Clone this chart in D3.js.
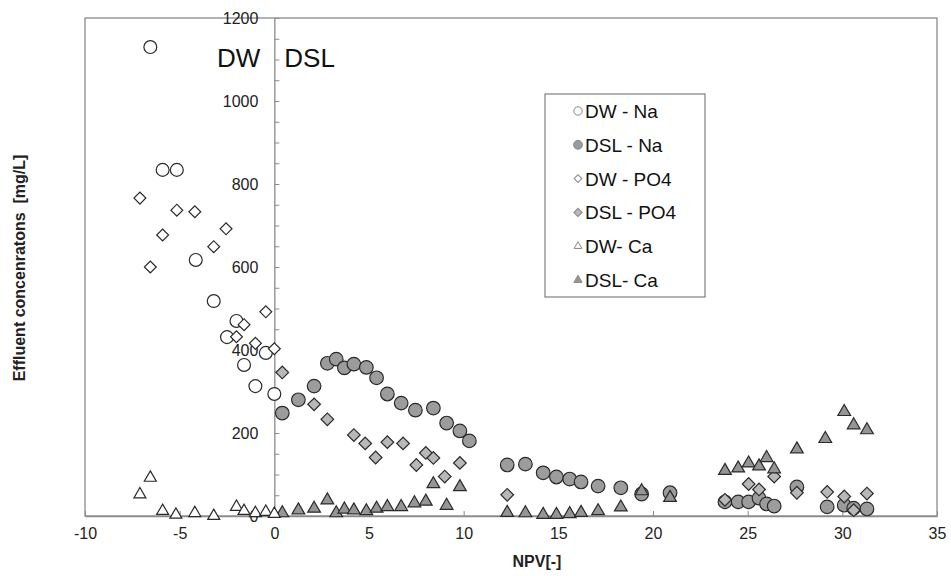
<!DOCTYPE html>
<html lang="en">

<head>
    <meta charset="UTF-8">
    <title>Effluent concentrations vs NPV</title>
    <style>
        body {
            margin: 0;
            background: #fff;
        }

        svg {
            font-family: Arial, "Liberation Sans", sans-serif;
        }

        .tick text {
            font-size: 16px;
            fill: #222;
        }
    </style>
</head>

<body>
    <script src="https://d3js.org/d3.v7.min.js"></script>
    <script>
        // [NPV, concentration mg/L]
        const dwNa = [[-6.55, 1130], [-5.9, 834], [-5.15, 834], [-4.15, 617], [-3.2, 518], [-2.0, 470],
            [-2.5, 431], [-1.6, 364], [-1.0, 313], [-0.45, 393], [0.0, 294]];
        const dslNa = [[0.42, 248], [1.27, 280], [2.1, 313], [2.8, 368], [3.27, 378], [3.7, 357], [4.2, 366],
            [4.86, 358], [5.4, 333], [5.97, 294], [6.7, 272], [7.45, 255], [8.4, 260], [9.1, 224], [9.8, 205],
            [10.3, 181], [12.3, 123], [13.26, 125], [14.2, 104], [14.9, 94], [15.6, 89], [16.2, 82], [17.1, 72],
            [18.3, 68], [19.4, 53], [20.9, 56], [23.8, 34], [24.5, 34], [25.05, 34], [25.6, 43], [26.0, 29],
            [26.4, 24], [27.6, 70], [29.2, 22], [30.1, 26], [30.6, 19], [31.3, 17]];
        const dwPO4 = [[-7.1, 766], [-5.15, 737], [-4.2, 733], [-5.9, 677], [-2.55, 692], [-3.2, 649],
            [-6.55, 600], [-0.45, 492], [-1.6, 461], [-2.0, 432], [-1.0, 416], [0.0, 403]];
        const dslPO4 = [[0.42, 346], [2.1, 269], [2.8, 233], [4.2, 195], [4.8, 175], [5.35, 141], [5.97, 178],
            [6.8, 175], [7.5, 123], [8.0, 152], [8.4, 140], [9.0, 95], [9.8, 128], [12.3, 51], [23.8, 39],
            [25.05, 77], [25.6, 64], [26.4, 95], [27.6, 56], [29.2, 58], [30.1, 47], [30.6, 14], [31.3, 54]];
        const dwCa = [[-7.1, 52], [-6.55, 92], [-5.9, 12], [-5.2, 3], [-4.2, 7], [-3.2, 0], [-2.0, 22],
            [-1.6, 12], [-1.0, 7], [-0.45, 10], [0.0, 5]];
        const dslCa = [[0.42, 7], [1.27, 14], [2.1, 18], [2.8, 38], [3.27, 7], [3.7, 16], [4.2, 14], [4.86, 12],
            [5.4, 18], [5.97, 22], [6.7, 22], [7.4, 31], [8.0, 35], [8.4, 77], [9.1, 25], [9.8, 70], [12.3, 8],
            [13.26, 7], [14.2, 3], [14.9, 3], [15.6, 5], [16.2, 8], [17.1, 12], [18.3, 21], [19.4, 60],
            [20.9, 44], [23.8, 109], [24.5, 115], [25.05, 127], [25.6, 120], [26.0, 140], [26.4, 113],
            [27.6, 161], [29.1, 186], [30.1, 251], [30.6, 219], [31.3, 207]];

        const xTicks = [-10, -5, 0, 5, 10, 15, 20, 25, 30, 35];
        const yTicks = d3.range(0, 1201, 50);
        const yLabels = [0, 200, 400, 600, 800, 1000, 1200];

        const width = 951, height = 576;
        const plot = { left: 85, right: 937, top: 18, bottom: 516 };

        const svg = d3.select("body").append("svg")
            .attr("width", width)
            .attr("height", height);

        const x = d3.scaleLinear().domain([-10, 35]).range([plot.left, plot.right]);
        const y = d3.scaleLinear().domain([0, 1200]).range([plot.bottom, plot.top]);

        // plot frame
        svg.append("rect")
            .attr("x", plot.left).attr("y", plot.top)
            .attr("width", plot.right - plot.left).attr("height", plot.bottom - plot.top)
            .attr("fill", "none").attr("stroke", "#8a8a8a").attr("stroke-width", 1.3);

        // x axis along bottom, ticks pointing up
        const xAxis = svg.append("g")
            .attr("transform", `translate(0,${plot.bottom})`)
            .call(d3.axisBottom(x).tickValues(xTicks).tickSizeInner(-5).tickSizeOuter(0).tickPadding(12)
                .tickFormat(d => String(d)));
        xAxis.select(".domain").attr("stroke", "#8a8a8a").attr("stroke-width", 1.3);
        xAxis.selectAll(".tick line").attr("stroke", "#8a8a8a");

        // y axis at NPV = 0, ticks pointing right
        const yAxis = svg.append("g")
            .attr("transform", `translate(${x(0)},0)`)
            .call(d3.axisLeft(y).tickValues(yTicks).tickSizeInner(-5).tickSizeOuter(0).tickPadding(16)
                .tickFormat(d => yLabels.includes(d) ? String(d) : ""));
        yAxis.select(".domain").attr("stroke", "#8a8a8a").attr("stroke-width", 1.3);
        yAxis.selectAll(".tick line").attr("stroke", "#8a8a8a");

        // region labels
        svg.append("text").attr("x", x(0) - 14).attr("y", 67)
            .attr("text-anchor", "end").attr("font-size", 26).attr("fill", "#111").text("DW");
        svg.append("text").attr("x", x(0) + 10).attr("y", 67)
            .attr("font-size", 26).attr("fill", "#111").text("DSL");

        // axis titles
        svg.append("text")
            .attr("transform", `translate(25,268) rotate(-90)`)
            .attr("text-anchor", "middle").attr("font-size", 16).attr("font-weight", "bold")
            .attr("fill", "#222").style("white-space", "pre")
            .text("Effluent concenratons  [mg/L]");
        svg.append("text")
            .attr("x", 537).attr("y", 567)
            .attr("text-anchor", "middle").attr("font-size", 16).attr("font-weight", "bold")
            .attr("fill", "#222").text("NPV[-]");

        const series = [
            { name: "DW - Na", data: dwNa, shape: d3.symbolCircle, size: 130, fill: "#fff", rot: 0 },
            { name: "DSL - Na", data: dslNa, shape: d3.symbolCircle, size: 145, fill: "#9c9c9c", rot: 0 },
            { name: "DW - PO4", data: dwPO4, shape: d3.symbolSquare, size: 70, fill: "#fff", rot: 45 },
            { name: "DSL - PO4", data: dslPO4, shape: d3.symbolSquare, size: 80, fill: "#b8b8b8", rot: 45 },
            { name: "DW- Ca", data: dwCa, shape: d3.symbolTriangle, size: 62, fill: "#fff", rot: 0 },
            { name: "DSL- Ca", data: dslCa, shape: d3.symbolTriangle, size: 70, fill: "#959595", rot: 0 }
        ];

        // draw order: Na, PO4, Ca (DSL then DW)
        const drawOrder = [1, 3, 5, 0, 2, 4];
        drawOrder.forEach(i => {
            const s = series[i];
            svg.append("g").selectAll("path")
                .data(s.data)
                .enter().append("path")
                .attr("d", d3.symbol().type(s.shape).size(s.size))
                .attr("transform", d => `translate(${x(d[0])},${y(d[1])}) rotate(${s.rot})`)
                .attr("fill", s.fill)
                .attr("stroke", "#2a2a2a")
                .attr("stroke-width", 1.2);
        });

        // legend
        const lg = svg.append("g");
        lg.append("rect")
            .attr("x", 545).attr("y", 94).attr("width", 160).attr("height", 203)
            .attr("fill", "#fff").attr("stroke", "#666").attr("stroke-width", 1);
        series.forEach((s, i) => {
            const cy = 111 + i * 33.8;
            lg.append("path")
                .attr("d", d3.symbol().type(s.shape).size(s.size * 0.42))
                .attr("transform", `translate(578,${cy}) rotate(${s.rot})`)
                .attr("fill", s.fill)
                .attr("stroke", "#888")
                .attr("stroke-width", 1);
            lg.append("text")
                .attr("x", 585).attr("y", cy + 7)
                .attr("font-size", 19).attr("fill", "#111")
                .text(s.name);
        });
    </script>
</body>

</html>
